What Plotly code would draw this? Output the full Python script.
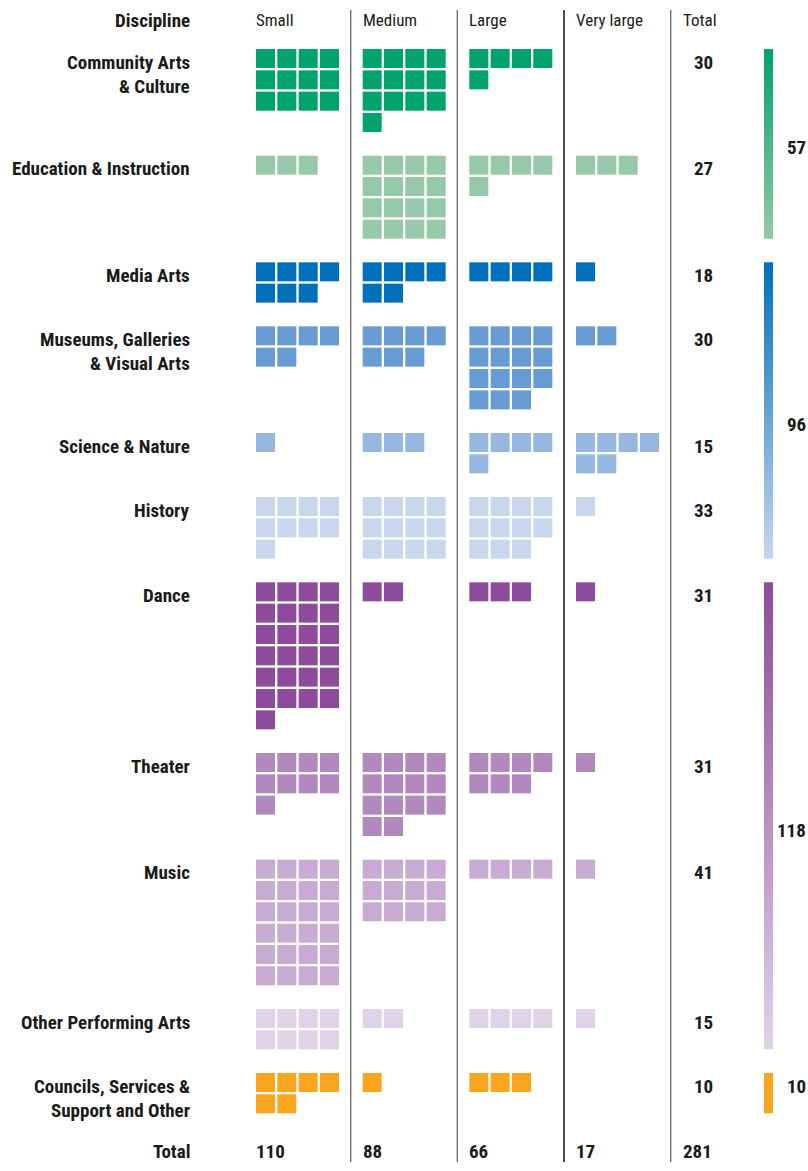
import math
import plotly.graph_objects as go

# ---------------- data ----------------
disciplines = ["Community Arts\n& Culture", "Education & Instruction", "Media Arts",
               "Museums, Galleries\n& Visual Arts", "Science & Nature", "History",
               "Dance", "Theater", "Music", "Other Performing Arts",
               "Councils, Services &\nSupport and Other"]
size_labels = ["Small", "Medium", "Large", "Very large"]
small = [12, 3, 7, 6, 1, 9, 25, 9, 24, 8, 6]
medium = [13, 16, 6, 7, 3, 12, 2, 14, 12, 2, 1]
large = [5, 5, 4, 15, 5, 11, 3, 7, 4, 4, 3]
very_large = [0, 3, 1, 2, 6, 1, 1, 1, 1, 1, 0]
colors = ["#00a36b", "#95c9a8", "#0070bb", "#679bd3", "#96b7e0", "#c8d6ee",
          "#8e4a9b", "#b189bf", "#c8abd3", "#e0d3e8", "#f9a61e"]
group_index = [0, 0, 1, 1, 1, 1, 2, 2, 2, 2, 3]

# ---------------- layout constants ----------------
PAGE_W, PAGE_H = 808, 1171
PITCH = 64 / 3
SQ = 19
COL_W = 320 / 3
X0 = 256
TOP0 = 49
LABEL_X = 190
TOT_X = 713
BAR_X0, BAR_X1 = 764, 773
TEXT_C = "#1a1a1a"
FONT = "Roboto Condensed, Liberation Sans Narrow, Roboto, sans-serif"
BOLD_SIZE = 19
REG_SIZE = 17

series = [small, medium, large, very_large]
n = len(disciplines)

fig = go.Figure()
annotations = []
shapes = []

def ann(x, y, text, anchor="left", bold=True):
    annotations.append(dict(x=x, y=y, xref="x", yref="y", text=text, showarrow=False,
                            xanchor=anchor, yanchor="middle", borderpad=0, borderwidth=0,
                            font=dict(family=FONT, size=BOLD_SIZE if bold else REG_SIZE,
                                      color=TEXT_C, weight=700 if bold else 400)))

# header
HEAD_Y = 20
ann(LABEL_X, HEAD_Y, "Discipline", "right", True)
for c, s in enumerate(size_labels + ["Total"]):
    ann(X0 + c * COL_W, HEAD_Y, s, "left", False)

# rows
tops = []
top = TOP0
for d in range(n):
    counts = [s[d] for s in series]
    rows = max(math.ceil(v / 4) for v in counts)
    tops.append((top, rows))
    xs, ys = [], []
    for c, v in enumerate(counts):
        for i in range(v):
            xs.append(X0 + c * COL_W + (i % 4) * PITCH + SQ / 2)
            ys.append(top + (i // 4) * PITCH + SQ / 2)
    fig.add_trace(go.Scatter(x=xs, y=ys, mode="markers", hoverinfo="skip",
                             marker=dict(symbol="square", size=SQ, color=colors[d],
                                         line=dict(width=0))))
    for j, line in enumerate(disciplines[d].split("\n")):
        ann(LABEL_X, top + 13 + 24 * j, line, "right", True)
    ann(TOT_X, top + 13, str(sum(counts)), "right", True)
    top += (rows + 1) * PITCH

# totals row
ann(LABEL_X, top + 14, "Total", "right", True)
col_totals = [sum(s) for s in series]
for c, v in enumerate(col_totals + [sum(col_totals)]):
    ann(X0 + c * COL_W, top + 14, str(v), "left", True)

# separators
sep_colors = ["#6e6e6e", "#6e6e6e", "#000000", "#6e6e6e"]
for c in range(1, 5):
    sx = X0 + c * COL_W - 12
    shapes.append(dict(type="line", xref="x", yref="y", x0=sx, x1=sx, y0=10, y1=1162,
                       line=dict(color=sep_colors[c - 1], width=1.4)))

# group gradient bars
for g in sorted(set(group_index)):
    members = [d for d in range(n) if group_index[d] == g]
    first, last = members[0], members[-1]
    y0 = tops[first][0]
    y1 = tops[last][0] + tops[last][1] * PITCH - (PITCH - SQ)
    c0, c1 = colors[first], colors[last]
    fig.add_trace(go.Scatter(x=[BAR_X0, BAR_X1, BAR_X1, BAR_X0, BAR_X0],
                             y=[y0, y0, y1, y1, y0], mode="lines", fill="toself",
                             line=dict(width=0), hoverinfo="skip",
                             fillgradient=dict(type="vertical", start=y0, stop=y1,
                                               colorscale=[[0, c0], [1, c1]])))
    total_rows = round((y1 + (PITCH - SQ) - y0) / PITCH)
    k = total_rows // 2 if total_rows > 2 else 0
    gsum = sum(sum(s[d] for s in series) for d in members)
    ann(806, y0 + k * PITCH + 13, str(gsum), "right", True)

fig.update_layout(width=PAGE_W, height=PAGE_H,
                  margin=dict(l=0, r=0, t=0, b=0),
                  paper_bgcolor="white", plot_bgcolor="white", showlegend=False,
                  hovermode=False,
                  xaxis=dict(range=[0, PAGE_W], visible=False, fixedrange=True),
                  yaxis=dict(range=[PAGE_H, 0], visible=False, fixedrange=True),
                  annotations=annotations, shapes=shapes)
fig.write_html("out.html", config={"displayModeBar": False, "staticPlot": True},
               post_script="document.body.style.margin='0';"
                           "document.documentElement.style.overflow='hidden';"
                           "document.body.style.overflow='hidden';")
